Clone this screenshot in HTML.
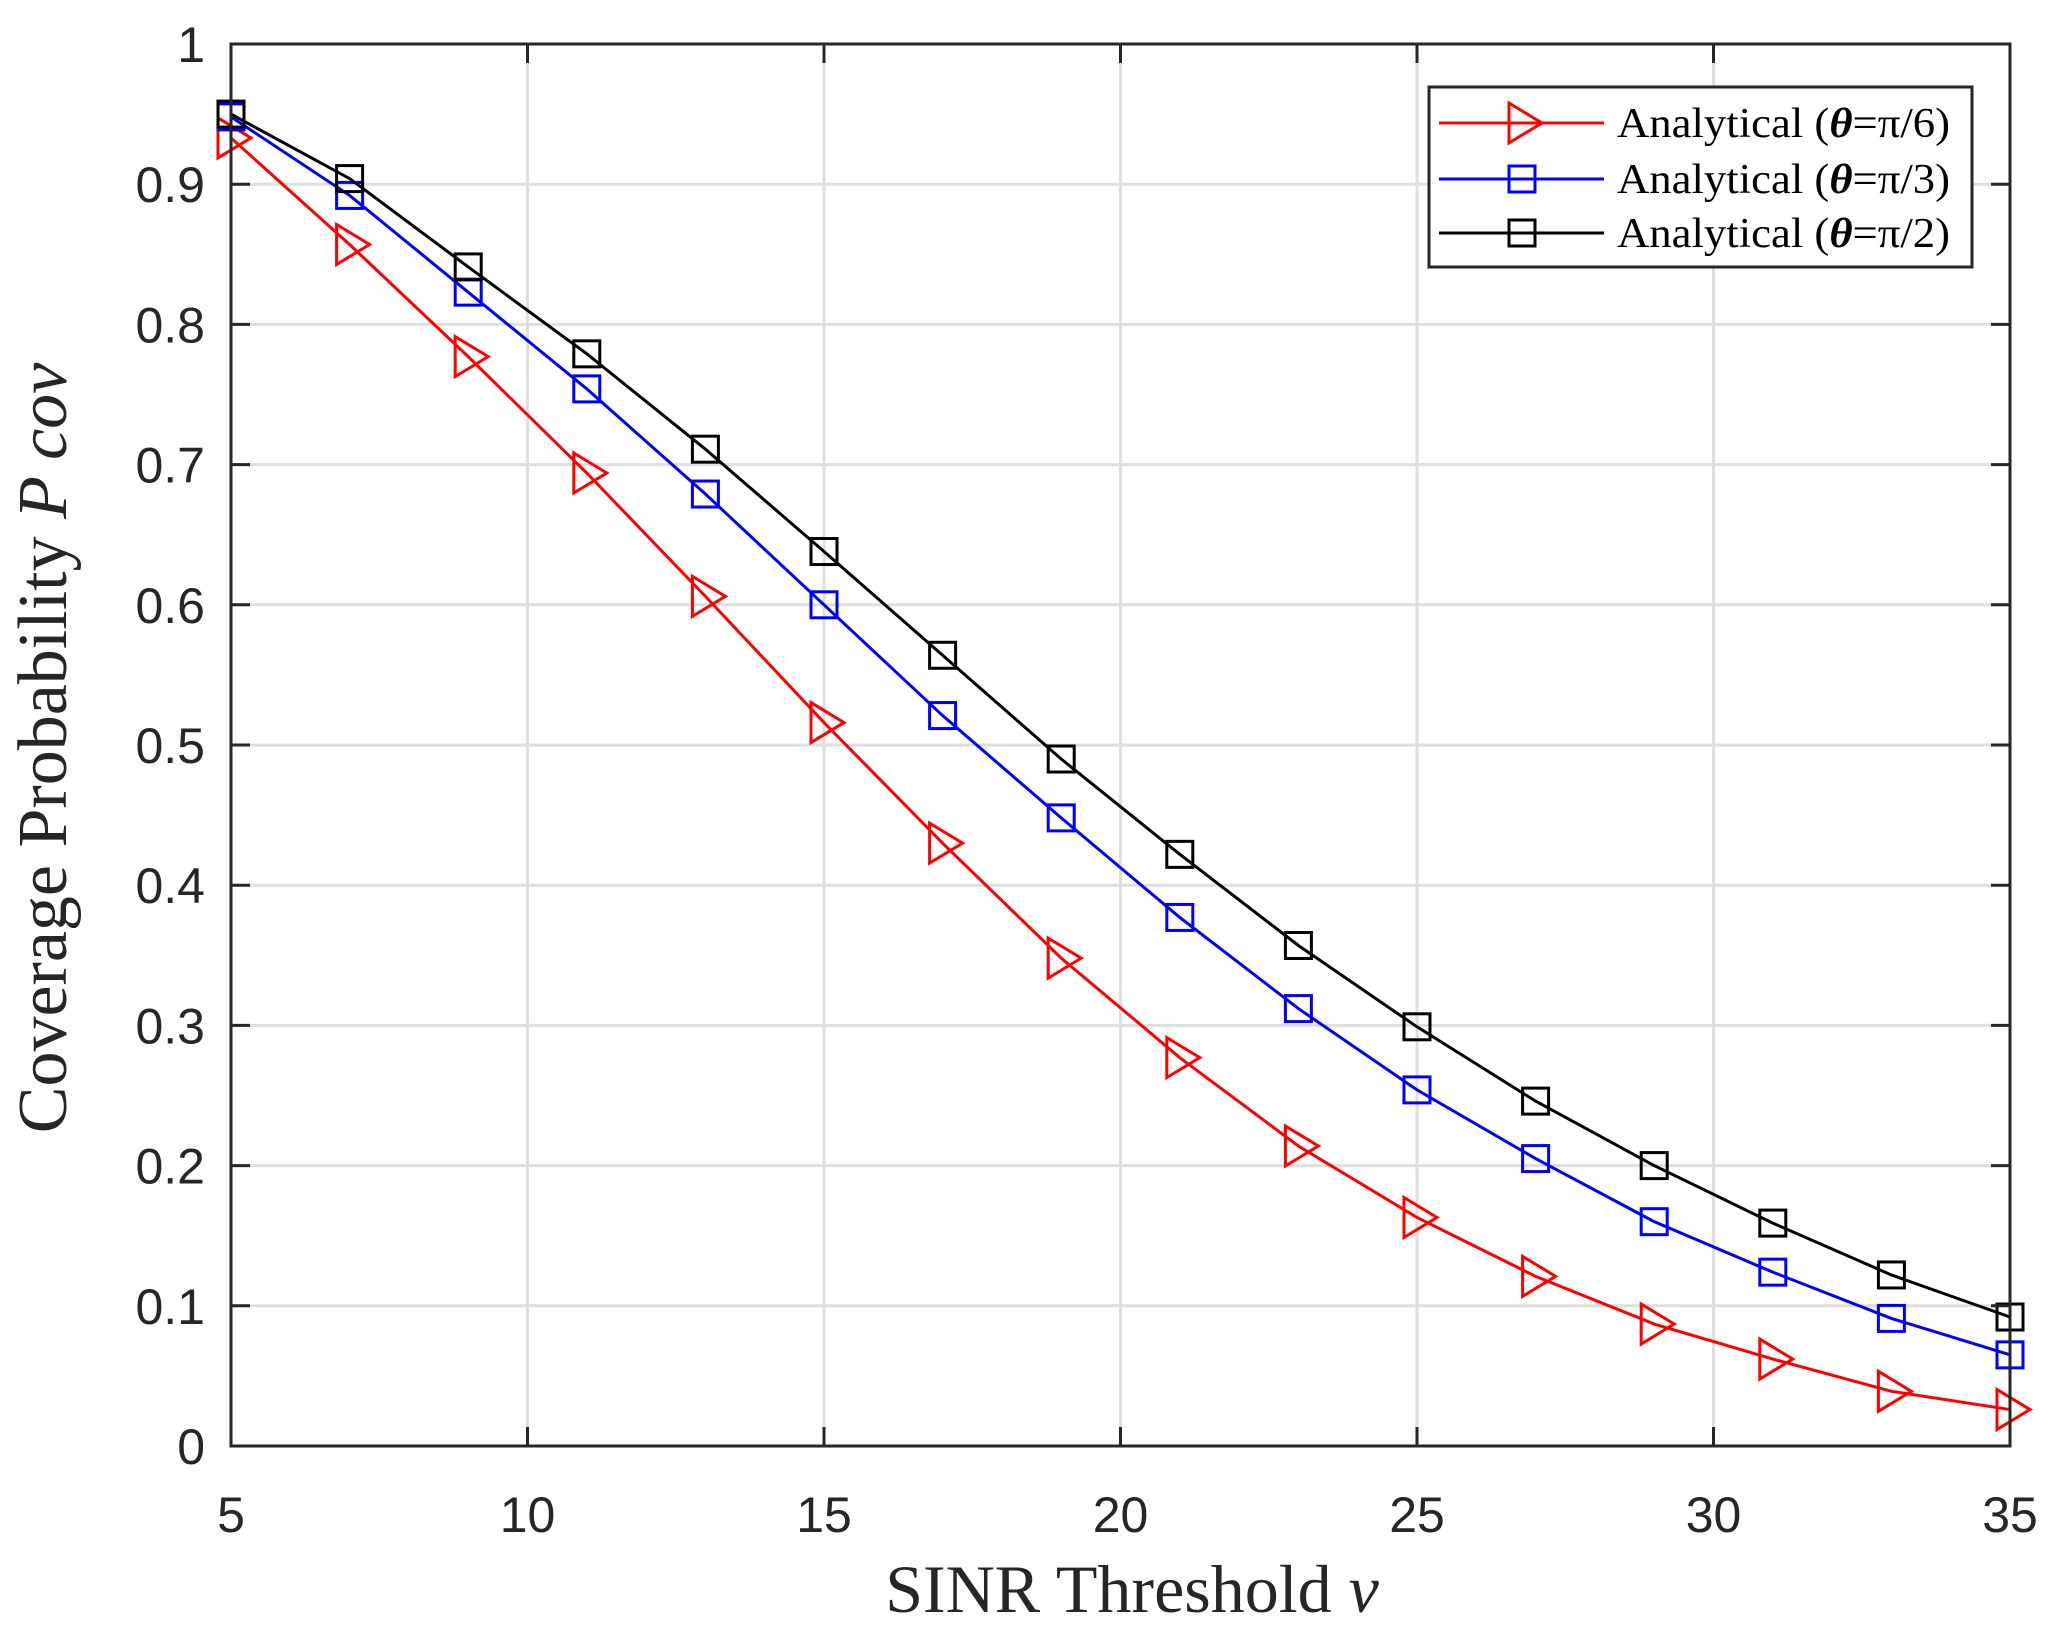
<!DOCTYPE html>
<html><head><meta charset="utf-8"><style>
html,body{margin:0;padding:0;background:#fff;}
svg{display:block;}
</style></head><body>
<svg id="chart" width="2065" height="1634" viewBox="0 0 2065 1634" xmlns="http://www.w3.org/2000/svg">
<rect width="2065" height="1634" fill="#fff"/>
<g id="grid"></g>
<g id="series"></g>
<g id="axes"></g>
<text x="1132" y="1612" text-anchor="middle" font-family="'Liberation Serif', serif" font-size="68" fill="#262626">SINR Threshold <tspan font-style="italic">ν</tspan></text>
<text transform="translate(66,748) rotate(-90)" text-anchor="middle" font-family="'Liberation Serif', serif" font-size="70" fill="#262626">Coverage Probability <tspan font-style="italic">P cov</tspan></text>
<g id="legend"></g>
</svg>
<script>
const xValues = [5,7,9,11,13,15,17,19,21,23,25,27,29,31,33,35];
const redValues = [0.933,0.857,0.777,0.694,0.606,0.516,0.430,0.348,0.277,0.214,0.163,0.121,0.087,0.062,0.039,0.026];
const blueValues = [0.948,0.892,0.823,0.754,0.679,0.600,0.521,0.448,0.377,0.312,0.254,0.205,0.160,0.124,0.091,0.065];
const blackValues = [0.950,0.904,0.841,0.779,0.711,0.638,0.564,0.490,0.422,0.357,0.299,0.246,0.200,0.159,0.122,0.092];
const xTicks = [5,10,15,20,25,30,35];
const yTicks = [0,0.1,0.2,0.3,0.4,0.5,0.6,0.7,0.8,0.9,1];
const yTickLabels = ['0','0.1','0.2','0.3','0.4','0.5','0.6','0.7','0.8','0.9','1'];
const legendLabels = ['π/6','π/3','π/2'];

const NS='http://www.w3.org/2000/svg';
const L=231,R=2010,T=44,B=1446;
const xs=v=>L+(v-5)/30*(R-L);
const ys=v=>B-v*(B-T);
function mk(tag,attrs,parent){const e=document.createElementNS(NS,tag);for(const k in attrs)e.setAttribute(k,attrs[k]);parent.appendChild(e);return e;}
const grid=document.getElementById('grid'),axes=document.getElementById('axes'),ser=document.getElementById('series'),leg=document.getElementById('legend');
xTicks.forEach((t,i)=>{
  const x=xs(t);
  if(t!==5&&t!==35){const g=mk('line',{x1:x,x2:x,y1:T,y2:B,stroke:'#dfdfdf','stroke-width':3},grid);
  
  }
  [[B,B-19],[T,T+19]].forEach(p=>{const tk=mk('line',{x1:x,x2:x,y1:p[0],y2:p[1],stroke:'#262626','stroke-width':3},axes);
  
  });
  const lb=mk('text',{x:x,y:1532,'text-anchor':'middle','font-family':"'Liberation Sans', sans-serif",'font-size':50,fill:'#262626'},axes);
  lb.textContent=t;
  
  
});
yTicks.forEach((t,i)=>{
  const y=ys(t);
  if(t!==0&&t!==1){const g=mk('line',{x1:L,x2:R,y1:y,y2:y,stroke:'#dfdfdf','stroke-width':3},grid);
  
  }
  [[L,L+19],[R,R-19]].forEach(p=>{const tk=mk('line',{x1:p[0],x2:p[1],y1:y,y2:y,stroke:'#262626','stroke-width':3},axes);
  
  });
  const lb=mk('text',{x:205,y:y+18,'text-anchor':'end','font-family':"'Liberation Sans', sans-serif",'font-size':50,fill:'#262626'},axes);
  lb.textContent=yTickLabels[i];
  
  
});
const frame=mk('rect',{x:L,y:T,width:R-L,height:B-T,fill:'none',stroke:'#262626','stroke-width':3},axes);



function tri(cx,cy,parent,color){return mk('polygon',{points:`${cx-13},${cy-20} ${cx+20},${cy} ${cx-13},${cy+20}`,fill:'none',stroke:color,'stroke-width':3},parent);}
function sq(cx,cy,parent,color){return mk('rect',{x:cx-13,y:cy-13,width:26,height:26,fill:'none',stroke:color,'stroke-width':3},parent);}
const seriesList=[{vals:redValues,color:'#ff0000',m:tri,name:'red'},{vals:blueValues,color:'#0000ff',m:sq,name:'blue'},{vals:blackValues,color:'#000000',m:sq,name:'black'}];
seriesList.forEach(s=>{
  const g=mk('g',{},ser);
  
  
  const pl=mk('polyline',{points:xValues.map((x,i)=>xs(x)+','+ys(s.vals[i])).join(' '),fill:'none',stroke:s.color,'stroke-width':3},g);
  
  
  xValues.forEach((x,i)=>{const mm=s.m(xs(x),ys(s.vals[i]),g,s.color);
    
    });
});
const box=mk('rect',{x:1429,y:87,width:543,height:180,fill:'#fff',stroke:'#262626','stroke-width':3},leg);


const rowsY=[123,179,233];
seriesList.forEach((s,i)=>{
  const y=rowsY[i];
  const g=mk('g',{},leg);
  
  
  mk('line',{x1:1439,x2:1604,y1:y,y2:y,stroke:s.color,'stroke-width':3},g);
  s.m(1522,y,g,s.color);
  const t=mk('text',{x:1617,y:y+14,'font-family':"'Liberation Serif', serif",'font-size':42,fill:'#000',textLength:333,lengthAdjust:'spacingAndGlyphs'},g);
  t.innerHTML='Analytical (<tspan font-style="italic" font-weight="bold">θ</tspan>='+legendLabels[i]+')';
});
</script>
</body></html>
